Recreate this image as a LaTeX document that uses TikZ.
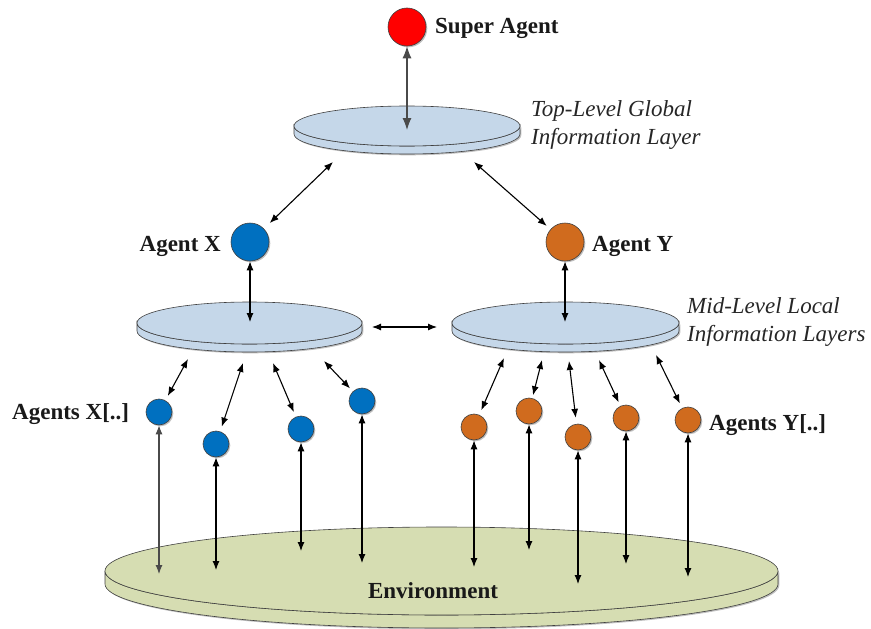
\documentclass[tikz,border=0pt]{standalone}
\usepackage{fontspec}
\setmainfont{Liberation Serif}
\usetikzlibrary{arrows.meta,shapes.geometric,shadows}

\definecolor{layerblue}{HTML}{C5D7E9}
\definecolor{envgreen}{HTML}{D6DDB2}
\definecolor{agentblue}{HTML}{0070C0}
\definecolor{agentorange}{HTML}{D06B1E}
\definecolor{agentred}{HTML}{FF0000}
\definecolor{rim}{HTML}{404040}
\definecolor{inkgray}{HTML}{4A4A4A}

\tikzset{
  softshadow/.style={drop shadow={shadow xshift=1.3pt, shadow yshift=-1.3pt, opacity=0.25, fill=black}},
  agent/.style={circle, draw=rim, line width=0.6pt, inner sep=0pt, softshadow},
  bigagent/.style={agent, minimum size=38pt},
  smallagent/.style={agent, minimum size=26pt},
  link/.style={{Latex[length=9pt,width=7pt]}-{Latex[length=9pt,width=7pt]}, line width=1.1pt, draw=black},
  glink/.style={{Latex[length=12pt,width=9pt]}-{Latex[length=12pt,width=9pt]}, line width=1.1pt, draw=inkgray},
  boldlabel/.style={font=\fontsize{23}{28}\selectfont\bfseries, inner sep=0pt, text=black!90},
  caption/.style={font=\fontsize{23}{28}\selectfont\itshape, inner sep=0pt, align=left, text=black!85},
}

% #1 name, #2 cx, #3 cy, #4 rx, #5 ry, #6 thickness, #7 fill
\newcommand\layerdisk[7]{%
  \filldraw[fill=#7, draw=rim, line width=0.6pt, softshadow]
    (#2-#4,#3) -- (#2-#4,#3+#6)
    arc[start angle=180, end angle=360, x radius=#4pt, y radius=#5pt]
    -- (#2+#4,#3)
    arc[start angle=360, end angle=180, x radius=#4pt, y radius=#5pt] -- cycle;
  \node[ellipse, draw=rim, fill=#7, line width=0.6pt, inner sep=0pt,
        minimum width={2*#4pt}, minimum height={2*#5pt}] (#1) at (#2,#3) {};
}

\begin{document}
\begin{tikzpicture}[x=1pt, y=-1pt]
\useasboundingbox (0,0) rectangle (871,629);

% information layers and environment
\layerdisk{top}{407}{126}{113}{20}{8}{layerblue}
\layerdisk{midL}{249.5}{323}{112.5}{21}{8}{layerblue}
\layerdisk{midR}{565.5}{323}{113.5}{21}{8}{layerblue}
\layerdisk{env}{441.5}{571}{336.5}{44}{13}{envgreen}

% agents
\node[bigagent, fill=agentred] (super) at (407,27) {};
\node[bigagent, fill=agentblue] (agX) at (250,242) {};
\node[bigagent, fill=agentorange] (agY) at (565,242) {};

\node[smallagent, fill=agentblue] (x1) at (159,412) {};
\node[smallagent, fill=agentblue] (x2) at (216,444) {};
\node[smallagent, fill=agentblue] (x3) at (301,429) {};
\node[smallagent, fill=agentblue] (x4) at (362,401) {};

\node[smallagent, fill=agentorange] (y1) at (474,427) {};
\node[smallagent, fill=agentorange] (y2) at (529,411) {};
\node[smallagent, fill=agentorange] (y3) at (578,437) {};
\node[smallagent, fill=agentorange] (y4) at (626,418) {};
\node[smallagent, fill=agentorange] (y5) at (688,420) {};

% labels
\node[boldlabel, anchor=base west] (lsuper) at (435,34) {Super Agent};
\node[boldlabel, anchor=base east] (lX) at (221,251) {Agent X};
\node[boldlabel, anchor=base west] (lY) at (592,251) {Agent Y};
\node[boldlabel, anchor=base west] (lXs) at (12,419) {Agents X[..]};
\node[boldlabel, anchor=base west] (lYs) at (709,430) {Agents Y[..]};
\node[boldlabel, anchor=base] (lenv) at (433,598) {Environment};
\node[caption, anchor=north west] (ctop) at (531,100) {Top-Level Global\\Information Layer};
\node[caption, anchor=north west] (cmid) at (687,297) {Mid-Level Local\\Information Layers};

% connector ends on the layers
\coordinate (topIn) at (407,130);
\coordinate (topX) at (333,162);
\coordinate (topY) at (474,162);
\coordinate (midXin) at (250,322);
\coordinate (midYin) at (565,322);
\coordinate (bridgeL) at (372,327);
\coordinate (bridgeR) at (437,327);

\coordinate (mx1) at (188,359);
\coordinate (mx2) at (243,363);
\coordinate (mx3) at (273,363);
\coordinate (mx4) at (324,361);
\coordinate (my1) at (504,358);
\coordinate (my2) at (542,360);
\coordinate (my3) at (569,361);
\coordinate (my4) at (599,360);
\coordinate (my5) at (656,355);

\coordinate (ex1) at (159,574);
\coordinate (ex2) at (216,570);
\coordinate (ex3) at (301,551);
\coordinate (ex4) at (362,563);
\coordinate (ey1) at (474,567);
\coordinate (ey2) at (529,550);
\coordinate (ey3) at (578,584);
\coordinate (ey4) at (626,564);
\coordinate (ey5) at (688,577);

% hierarchy links
\draw[glink] (super) -- (topIn);
\draw[link, shorten >=8pt] (topX) -- (agX);
\draw[link, shorten >=5pt] (topY) -- (agY);
\draw[link] (agX) -- (midXin);
\draw[link] (agY) -- (midYin);
\draw[link] (bridgeL) -- (bridgeR);

% local layer links
\draw[link, shorten >=5pt] (mx1) -- (x1);
\draw[link, shorten >=5pt] (mx2) -- (x2);
\draw[link, shorten >=5pt] (mx3) -- (x3);
\draw[link, shorten >=4pt] (mx4) -- (x4);
\draw[link, shorten >=5pt] (my1) -- (y1);
\draw[link, shorten >=3pt] (my2) -- (y2);
\draw[link, shorten >=6pt] (my3) -- (y3);
\draw[link, shorten >=4pt] (my4) -- (y4);
\draw[link, shorten >=5pt] (my5) -- (y5);

% environment links
\draw[glink, {Latex[length=9pt,width=7pt]}-{Latex[length=9pt,width=7pt]}] (x1) -- (ex1);
\draw[link] (x2) -- (ex2);
\draw[link] (x3) -- (ex3);
\draw[link] (x4) -- (ex4);
\draw[link] (y1) -- (ey1);
\draw[link] (y2) -- (ey2);
\draw[link] (y3) -- (ey3);
\draw[link] (y4) -- (ey4);
\draw[link] (y5) -- (ey5);
\end{tikzpicture}
\end{document}
